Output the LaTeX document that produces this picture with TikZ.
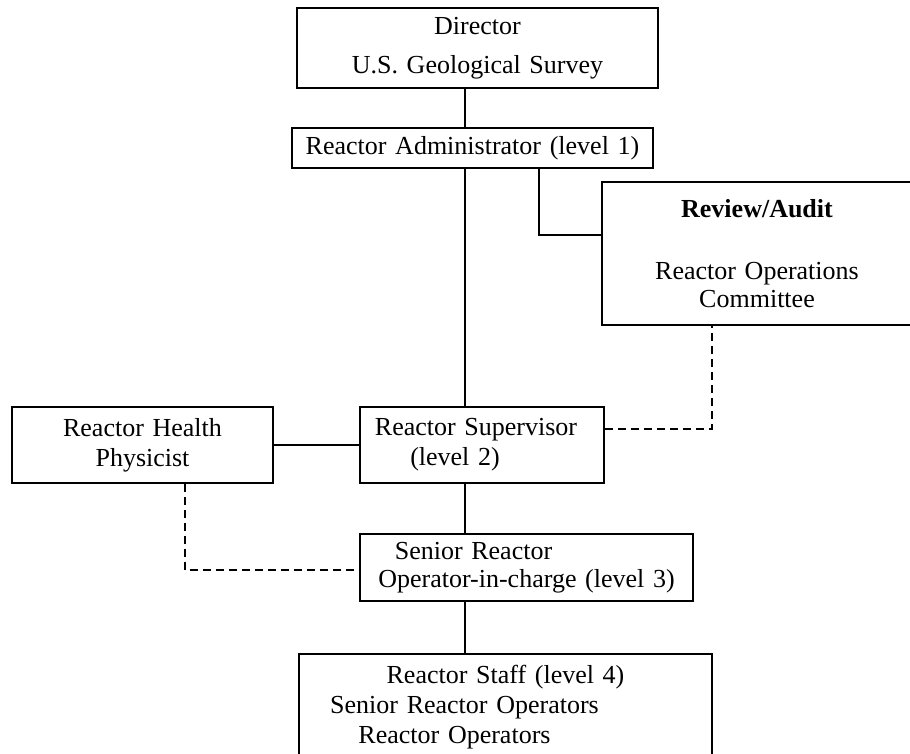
\documentclass[tikz,border=0pt]{standalone}
\usepackage{fontspec}
\setmainfont{Liberation Serif}

% empty rule used to push a line off centre
\newcommand{\padrule}[1]{\rule{#1}{0pt}}

\tikzset{
  unitbox/.style={draw, line width=1.6pt, inner sep=0pt, align=center,
    font=\fontsize{26}{30}\selectfont},
  linkline/.style={line width=1.6pt},
  dashlink/.style={line width=1.6pt, dash pattern=on 8pt off 5pt}
}

\begin{document}
\begin{tikzpicture}[x=1pt, y=-1pt]

        \useasboundingbox (0,0) rectangle (910,753);

        % Director
        \node [unitbox, text width=361pt, minimum height=80pt,
          font=\fontsize{26}{39}\selectfont] (director) at (477.5,48.0)
          {Director\\U.S. Geological Survey};

        % Administrator
        \node [unitbox, text width=361pt, minimum height=40pt] (admin) at (472.5,148.0)
          {Reactor Administrator (level 1)};

        % Review/Audit
        \node [unitbox, text width=310pt, minimum height=143pt,
          font=\fontsize{26}{28}\selectfont] (review) at (757.0,253.5)
          {\textbf{Review/Audit}\\[34pt]Reactor Operations\\Committee};

        % Health Physicist
        \node [unitbox, text width=261pt, minimum height=76pt] (physicist) at (142.5,445.0)
          {Reactor Health\\Physicist};

        % Supervisor
        \node [unitbox, text width=244pt, minimum height=76pt] (supervisor) at (482.0,445.0)
          {Reactor Supervisor\padrule{12pt}\\(level 2)\padrule{54pt}};

        % Senior Reactor Operator
        \node [unitbox, text width=333pt, minimum height=67pt,
          font=\fontsize{26}{28}\selectfont] (sro) at (526.5,567.5)
          {Senior Reactor\padrule{106pt}\\Operator-in-charge (level 3)};

        % Staff
        \node [unitbox, text width=413pt, minimum height=106pt] (staff) at (505.5,707.0)
          {Reactor Staff (level 4)\\Senior Reactor Operators\padrule{82pt}\\Reactor Operators\padrule{102pt}};

        % bend points
        \coordinate (spine) at (465.0,0.0);
        \coordinate (auditbend) at (539.0,235.0);
        \coordinate (auditdash) at (712.0,429.0);
        \coordinate (hpdash) at (185.0,570.0);

        % Director -- Administrator -- Supervisor -- SRO -- Staff
        \draw [linkline] (director.south -| spine) -- (admin.north -| spine);
        \draw [linkline] (admin.south -| spine) -- (supervisor.north -| spine);
        \draw [linkline] (supervisor.south -| spine) -- (sro.north -| spine);
        \draw [linkline] (sro.south -| spine) -- (staff.north -| spine);

        % Administrator -- Review/Audit
        \draw [linkline] (admin.south -| auditbend) -- (auditbend) -- (review.west |- auditbend);

        % Physicist -- Supervisor
        \draw [linkline] (physicist.east) -- (supervisor.west);

        % Supervisor - - Review/Audit
        \draw [dashlink] (supervisor.east |- auditdash) -| (review.south -| auditdash);

        % Physicist - - SRO
        \draw [dashlink] (physicist.south -| hpdash) |- (sro.west |- hpdash);

    \end{tikzpicture}
\end{document}
